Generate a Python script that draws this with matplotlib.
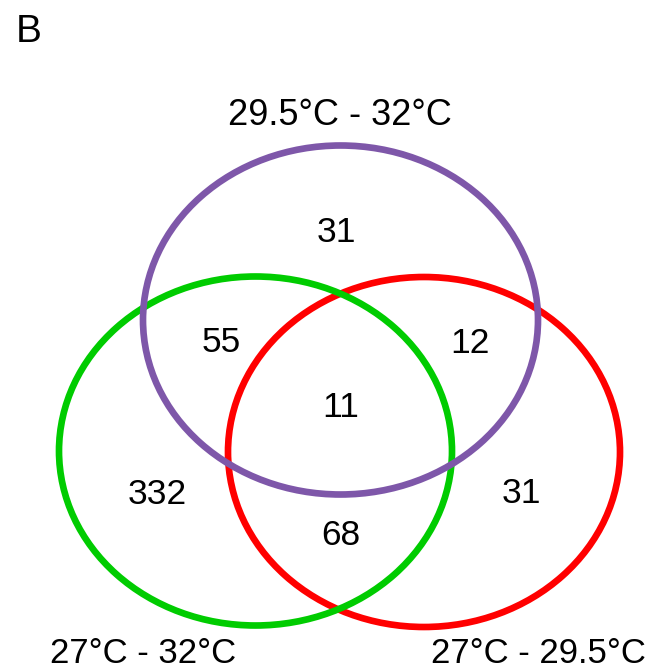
import matplotlib
matplotlib.use("Agg")
import matplotlib.pyplot as plt
from matplotlib.patches import Ellipse

plt.rcParams["font.family"] = ["Liberation Sans", "DejaVu Sans"]

# sets: label, ellipse centre, width, height, colour
set_names = ["27°C - 29.5°C", "27°C - 32°C", "29.5°C - 32°C"]
set_centers = [(424, 452), (255.5, 451), (340.5, 320)]
set_sizes = [(392, 350), (393, 349), (395, 349)]
set_colors = ["#ff0000", "#00cc00", "#7e57a9"]

# region counts and their baseline positions
region_counts = [31, 55, 12, 11, 332, 31, 68]
region_pos = [(336, 242), (221, 352), (470, 353), (340.5, 417),
              (157.5, 504), (521, 503), (341, 545)]

# set name positions (baseline)
name_pos = [(538, 663), (143, 663), (339.5, 125)]
name_sizes = [25, 25, 26]

fig = plt.figure(figsize=(6.49, 6.71), dpi=100)
ax = fig.add_axes([0, 0, 1, 1])
ax.set_xlim(0, 649)
ax.set_ylim(671, 0)
ax.axis("off")

for c, (w, h), col in zip(set_centers, set_sizes, set_colors):
    ax.add_patch(Ellipse(c, w, h, fill=False, edgecolor=col, linewidth=4.8))

for n, (x, y) in zip(region_counts, region_pos):
    ax.text(x, y, str(n), ha="center", va="baseline", fontsize=25.5)

for name, (x, y), fs in zip(set_names, name_pos, name_sizes):
    ax.text(x, y, name, ha="center", va="baseline", fontsize=fs)

ax.text(16, 42, "B", ha="left", va="baseline", fontsize=28,
        family=["Liberation Sans Narrow", "Liberation Sans"])

fig.savefig("out.png", dpi=100)
